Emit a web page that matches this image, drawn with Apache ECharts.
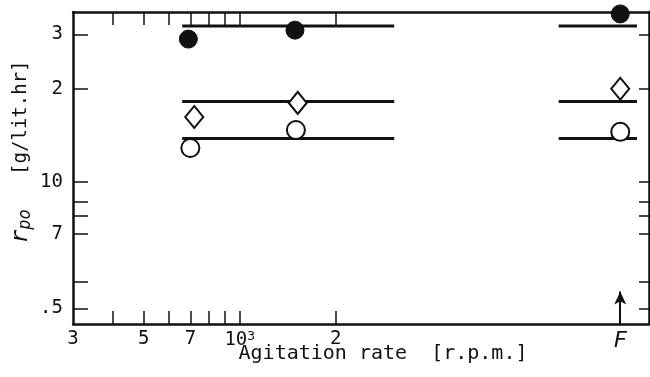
<!DOCTYPE html>
<html>
<head>
<meta charset="utf-8">
<script src="https://cdn.jsdelivr.net/npm/echarts@6/dist/echarts.min.js"></script>
<style>
  html, body { margin: 0; padding: 0; background: #fff; }
  #chart { width: 650px; height: 377px; }
</style>
</head>
<body>
<div id="chart"></div>
<script>
// Agitation rate [r.p.m.] vs specific production rate r_po [g/lit.hr]
// The "F" position on the rate axis stands for the flask culture.
const FLASK_RATE = 15600;

// Measured points: [agitation rate, r_po]
const filledCircle = [[690, 2.90], [1490, 3.10], [FLASK_RATE, 3.50]];
const openDiamond  = [[720, 1.62], [1520, 1.80], [FLASK_RATE, 2.00]];
const openCircle   = [[700, 1.285], [1500, 1.47], [FLASK_RATE, 1.45]];

// Horizontal reference levels, drawn over two rate spans
const levelValues = [3.20, 1.82, 1.38];
const leftSpan  = [660, 3050];
const flaskSpan = [10000, 17600];

// Rate axis ticks and labels
const xTickValues  = [400, 500, 600, 700, 800, 900, 1000, 2000];
const xLabelValues = [300, 500, 700, 1000, 2000, FLASK_RATE];
const xLabelTexts  = ['3', '5', '7', '{b|10}{sup|3}', '2', '{f|F}'];

// r_po axis ticks and labels
const yTickValues  = [0.388, 0.472, 0.675, 0.773, 0.858, 1, 2, 3];
const yLabelValues = [0.388, 0.675, 1, 2, 3];
const yLabelTexts  = ['.5', '7', '10', '2', '3'];

const FONT = 'DejaVu Sans Mono';
const INK = '#111';

function labelFor(values, texts) {
  return function (v) {
    for (let i = 0; i < values.length; i++) {
      if (Math.abs(values[i] - v) / values[i] < 1e-6) return texts[i];
    }
    return '';
  };
}

function segmentSeries(level) {
  const data = [[leftSpan[0], level], [leftSpan[1], level], [null, null],
                [flaskSpan[0], level], [flaskSpan[1], level]];
  return {
    type: 'line', data: data, symbol: 'none', connectNulls: false,
    lineStyle: { color: INK, width: 3 }, z: 2, silent: true
  };
}

const chart = echarts.init(document.getElementById('chart'));

const xCommon = {
  type: 'log', logBase: 10, min: 300, max: 19200,
  splitLine: { show: false }, minorTick: { show: false },
  axisLine: { show: true, lineStyle: { color: INK, width: 2.5 } }
};
const yCommon = {
  type: 'log', logBase: 10, min: 0.345, max: 3.55,
  splitLine: { show: false }, minorTick: { show: false },
  axisLine: { show: true, lineStyle: { color: INK, width: 2.5 } }
};

const option = {
  animation: false,
  backgroundColor: '#fff',
  grid: { left: 73, right: 1, top: 12, bottom: 53, containLabel: false, outerBoundsMode: 'none' },
  xAxis: [
    Object.assign({}, xCommon, {
      position: 'bottom',
      axisTick: { show: true, inside: true, length: 13, customValues: xTickValues,
                  lineStyle: { color: INK, width: 1.5 } },
      axisLabel: {
        customValues: xLabelValues, formatter: labelFor(xLabelValues, xLabelTexts),
        color: INK, fontFamily: FONT, fontSize: 19, margin: 6,
        rich: {
          b: { fontFamily: FONT, fontSize: 19, color: INK },
          sup: { fontFamily: FONT, fontSize: 13, color: INK, verticalAlign: 'top', padding: [0, 0, 8, 0] },
          f: { fontFamily: FONT, fontSize: 22, fontStyle: 'italic', color: INK }
        }
      },
      name: 'Agitation rate  [r.p.m.]',
      nameLocation: 'middle', nameGap: 20, nameMoveOverlap: false,
      nameTextStyle: { fontFamily: FONT, fontSize: 20, color: INK, padding: [0, 0, 0, 44] }
    }),
    Object.assign({}, xCommon, {
      position: 'top',
      axisTick: { show: true, inside: true, length: 13, customValues: xTickValues,
                  lineStyle: { color: INK, width: 1.5 } },
      axisLabel: { show: false }
    })
  ],
  yAxis: [
    Object.assign({}, yCommon, {
      position: 'left',
      axisTick: { show: true, inside: true, length: 15, customValues: yTickValues,
                  lineStyle: { color: INK, width: 1.5 } },
      axisLabel: {
        customValues: yLabelValues, formatter: labelFor(yLabelValues, yLabelTexts),
        color: INK, fontFamily: FONT, fontSize: 19, margin: 10
      },
      name: '{r|r}{s|po}{u|   [g/lit.hr]}',
      nameLocation: 'middle', nameGap: 39, nameRotate: 90, nameMoveOverlap: false,
      nameTextStyle: {
        color: INK, padding: [0, 0, 0, 32],
        rich: {
          r: { fontFamily: FONT, fontSize: 23, fontStyle: 'italic', color: INK },
          s: { fontFamily: FONT, fontSize: 17, fontStyle: 'italic', color: INK, padding: [9, 0, 0, 0] },
          u: { fontFamily: FONT, fontSize: 19, color: INK }
        }
      }
    }),
    Object.assign({}, yCommon, {
      position: 'right',
      axisTick: { show: true, inside: true, length: 10, customValues: yTickValues,
                  lineStyle: { color: INK, width: 1.5 } },
      axisLabel: { show: false }
    })
  ],
  series: [
    segmentSeries(levelValues[0]),
    segmentSeries(levelValues[1]),
    segmentSeries(levelValues[2]),
    {
      type: 'scatter', data: filledCircle, symbol: 'circle', symbolSize: 18, clip: false,
      itemStyle: { color: INK, borderColor: INK, borderWidth: 1, opacity: 1 }, z: 5
    },
    {
      type: 'scatter', data: openDiamond, symbol: 'diamond', symbolSize: [18, 22], clip: false,
      itemStyle: { color: '#fff', borderColor: INK, borderWidth: 2, opacity: 1 }, z: 5
    },
    {
      type: 'scatter', data: openCircle, symbol: 'circle', symbolSize: 18, clip: false,
      itemStyle: { color: '#fff', borderColor: INK, borderWidth: 2, opacity: 1 }, z: 5
    },
    {
      // arrow marking the flask culture position
      type: 'line', data: [], silent: true,
      markLine: {
        silent: true, animation: false,
        symbol: ['none', 'arrow'], symbolSize: [9, 13],
        label: { show: false },
        lineStyle: { color: INK, width: 2, type: 'solid' },
        data: [[{ coord: [FLASK_RATE, 0.345] }, { coord: [FLASK_RATE, 0.44] }]]
      }
    }
  ]
};

chart.setOption(option);
</script>
</body>
</html>
